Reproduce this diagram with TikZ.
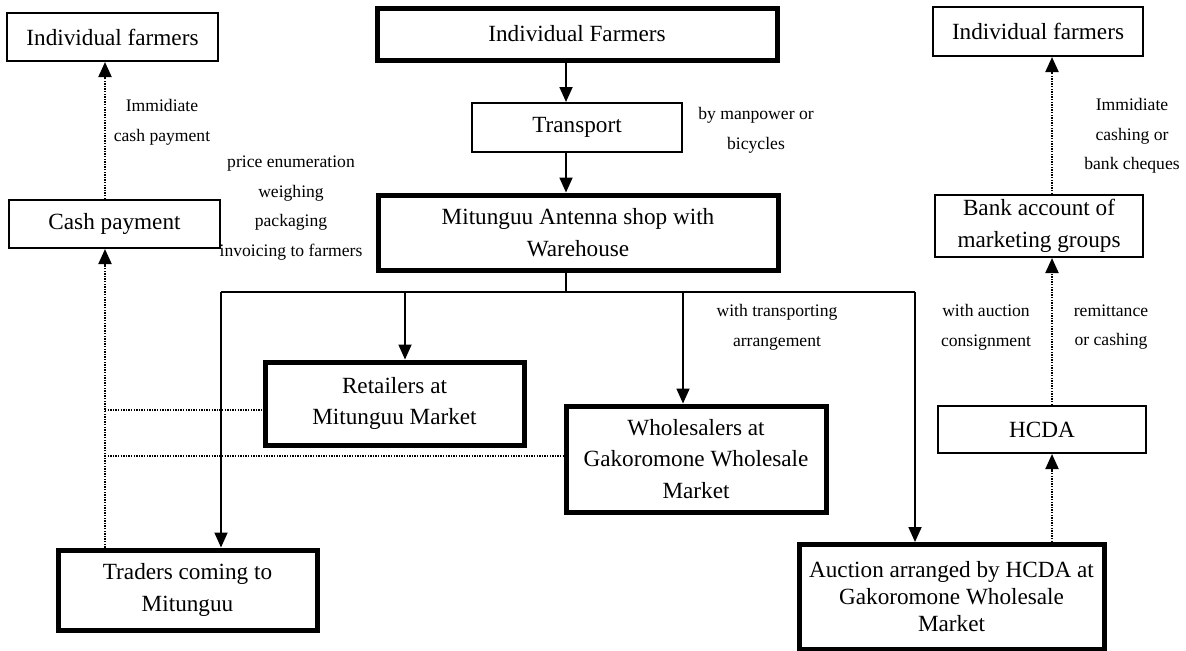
\documentclass[tikz,border=0pt]{standalone}
\usepackage{fontspec}
\setmainfont{Liberation Serif}
\usetikzlibrary{arrows.meta}
\newcommand\bxfont{\fontsize{11.6}{15.8}\selectfont}
\newcommand\bxtightfont{\fontsize{11.6}{13.5}\selectfont}
\newcommand\ntfont{\fontsize{8.8}{14.8}\selectfont}
\tikzset{
  thinbox/.style={draw, line width=1pt, inner sep=0pt, align=center, font=\bxfont},
  thickbox/.style={draw, line width=2.5pt, inner sep=0pt, align=center, font=\bxfont},
  note/.style={align=center, font=\ntfont, inner sep=0pt},
  tip/.style={-{Triangle[width=6.5pt,length=7.5pt]}},
  flow/.style={line width=0.9pt},
  pay/.style={line width=1pt, dash pattern=on 0.7pt off 0.6pt},
}
\begin{document}
\begin{tikzpicture}[x=0.5pt,y=-0.5pt]
\useasboundingbox (0,0) rectangle (1186,650);

% boxes (centre in px, size in pt)
\node[thinbox,  minimum width=105.5pt, minimum height=24pt]   (ifL)  at (112.5,37)   {Individual farmers};
\node[thickbox, minimum width=200pt,   minimum height=26pt]   (ifC)  at (577,34)     {Individual Farmers};
\node[thinbox,  minimum width=105pt,   minimum height=24.5pt] (ifR)  at (1038,31.5)  {Individual farmers};
\node[thinbox,  minimum width=105pt,   minimum height=24.5pt] (tr)   at (577,127.5)  {Transport};
\node[thickbox, minimum width=200pt,   minimum height=37.5pt] (mit)  at (578,232.5)  {Mitunguu Antenna shop with\\Warehouse};
\node[thinbox,  minimum width=105.5pt, minimum height=24pt]   (cash) at (114.5,224)  {Cash payment};
\node[thinbox,  minimum width=104pt,   minimum height=31pt]   (bank) at (1039,226)   {Bank account of\\marketing groups};
\node[thickbox, minimum width=129.5pt, minimum height=41.5pt] (ret)  at (394.5,403.5){Retailers at\\Mitunguu Market};
\node[thickbox, minimum width=130pt,   minimum height=53pt]   (whl)  at (696,459)    {Wholesalers at\\Gakoromone Wholesale\\Market};
\node[thinbox,  minimum width=104pt,   minimum height=23.5pt] (hcda) at (1042,429.5) {HCDA};
\node[thickbox, minimum width=129.5pt, minimum height=40pt]   (trd)  at (187.5,590)  {Traders coming to\\Mitunguu};
\node[thickbox, minimum width=152.5pt, minimum height=52.5pt, font=\bxtightfont] (auc) at (951.5,597) {Auction arranged by HCDA at\\Gakoromone Wholesale\\Market};

% notes
\node[note] (n1) at (162,122)  {Immidiate\\cash payment};
\node[note] (n2) at (291,208)  {price enumeration\\weighing\\packaging\\invoicing to farmers};
\node[note] (n3) at (756,130)  {by manpower or\\bicycles};
\node[note] (n4) at (777,327)  {with transporting\\arrangement};
\node[note] (n5) at (986,327)  {with auction\\consignment};
\node[note] (n6) at (1111,327) {remittance\\or cashing};
\node[note] (n7) at (1132,136) {Immidiate\\cashing or\\bank cheques};

% guide coordinates for the connector columns and the bus
\coordinate (spine) at (566,0);
\coordinate (bus)   at (0,292);
\coordinate (cT)    at (221,0);
\coordinate (cR)    at (405,0);
\coordinate (cW)    at (683,0);
\coordinate (cA)    at (915,0);
\coordinate (cL)    at (105,0);
\coordinate (cH)    at (1052,0);
\coordinate (rowR)  at (0,410);
\coordinate (rowW)  at (0,456);

% goods flow
\draw[flow,tip] (ifC.south -| spine) -- (tr.north -| spine);
\draw[flow,tip] (tr.south -| spine) -- (mit.north -| spine);
\draw[flow] (mit.south -| spine) -- (spine |- bus);
\draw[flow] (cT |- bus) -- (cA |- bus);
\draw[flow,tip] (cT |- bus) -- (trd.north -| cT);
\draw[flow,tip] (cR |- bus) -- (ret.north -| cR);
\draw[flow,tip] (cW |- bus) -- (whl.north -| cW);
\draw[flow,tip] (cA |- bus) -- (auc.north -| cA);

% payment flow
\draw[pay,tip] (trd.north -| cL) -- (cash.south -| cL);
\draw[pay,tip] (cash.north -| cL) -- (ifL.south -| cL);
\draw[pay] (cL |- rowR) -- (ret.west |- rowR);
\draw[pay] (cL |- rowW) -- (whl.west |- rowW);
\draw[pay,tip] (auc.north -| cH) -- (hcda.south -| cH);
\draw[pay,tip] (hcda.north -| cH) -- (bank.south -| cH);
\draw[pay,tip] (bank.north -| cH) -- (ifR.south -| cH);
\end{tikzpicture}
\end{document}
